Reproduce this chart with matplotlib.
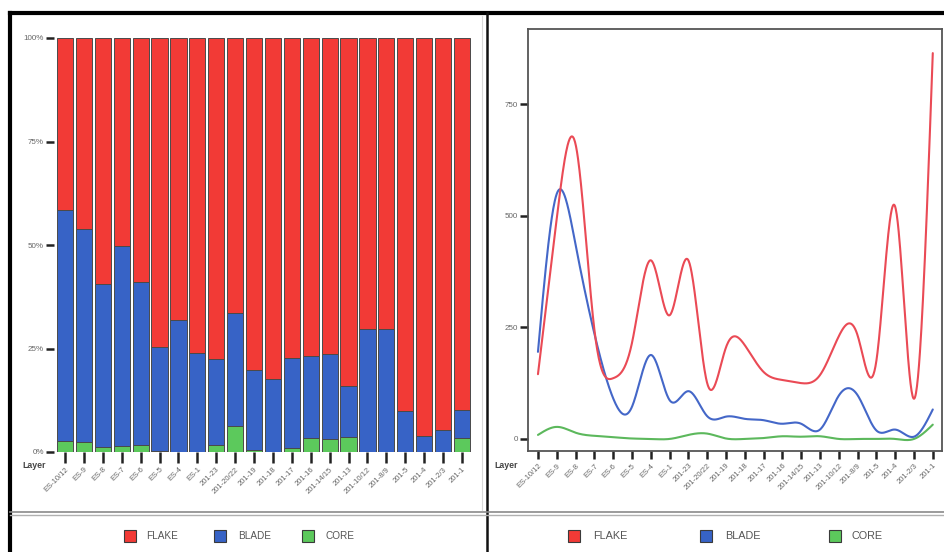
import numpy as np
import matplotlib
matplotlib.use("Agg")
import matplotlib.pyplot as plt
from matplotlib.patches import Rectangle
from matplotlib.lines import Line2D

plt.rcParams['font.family'] = ['Liberation Sans', 'DejaVu Sans']

# Layers, top of sequence first
layers = ["ES-10/12", "ES-9", "ES-8", "ES-7", "ES-6", "ES-5", "ES-4", "ES-1",
          "201-23", "201-20/22", "201-19", "201-18", "201-17", "201-16",
          "201-14/15", "201-13", "201-10/12", "201-8/9", "201-5", "201-4",
          "201-2/3", "201-1"]

# Artefact counts per layer
flake = [145, 494, 660, 245, 136, 215, 400, 277, 400, 125, 205,
         210, 150, 132, 125, 143, 230, 232, 175, 520, 90, 864]
blade = [195, 549, 435, 236, 91, 72, 188, 87, 107, 51, 50,
         45, 42, 34, 34, 21, 97, 98, 19, 21, 5, 66]
core = [9, 27, 14, 7, 4, 1, 0, 0, 9, 12, 1,
        0, 2, 6, 5, 6, 0, 0, 0, 0, 0, 32]

series_names = ["FLAKE", "BLADE", "CORE"]

BAR_COLORS = {"FLAKE": "#f23a36", "BLADE": "#3763c6", "CORE": "#5cc95c"}
LINE_COLORS = {"FLAKE": "#ea4a55", "BLADE": "#4467c8", "CORE": "#5cb85c"}

W, H = 945, 552
fig = plt.figure(figsize=(W / 100, H / 100), dpi=100)
fig.patch.set_facecolor("white")


def rect(x0, y0, x1, y1):
    return [x0 / W, 1 - y1 / H, (x1 - x0) / W, (y1 - y0) / H]


def fx(x):
    return x / W


def fy(y):
    return 1 - y / H


def natural_spline(x, y, xs):
    x = np.asarray(x, float)
    y = np.asarray(y, float)
    n = len(x)
    h = np.diff(x)
    A = np.zeros((n, n))
    b = np.zeros(n)
    A[0, 0] = A[-1, -1] = 1.0
    for i in range(1, n - 1):
        A[i, i - 1] = h[i - 1]
        A[i, i] = 2 * (h[i - 1] + h[i])
        A[i, i + 1] = h[i]
        b[i] = 6 * ((y[i + 1] - y[i]) / h[i] - (y[i] - y[i - 1]) / h[i - 1])
    M = np.linalg.solve(A, b)
    idx = np.clip(np.searchsorted(x, xs) - 1, 0, n - 2)
    x0, x1 = x[idx], x[idx + 1]
    hh = x1 - x0
    t0, t1 = x1 - xs, xs - x0
    return (M[idx] * t0 ** 3 / (6 * hh) + M[idx + 1] * t1 ** 3 / (6 * hh)
            + (y[idx] / hh - M[idx] * hh / 6) * t0
            + (y[idx + 1] / hh - M[idx + 1] * hh / 6) * t1)


n = len(layers)
pos = np.arange(n)
counts = {"FLAKE": np.array(flake, float), "BLADE": np.array(blade, float),
          "CORE": np.array(core, float)}
total = counts["FLAKE"] + counts["BLADE"] + counts["CORE"]
pct = {k: v / total * 100 for k, v in counts.items()}

label_color = "#666666"

# ---------- left: 100% stacked bars ----------
ax1 = fig.add_axes(rect(53.7, 38, 473.3, 452))
bottom = np.zeros(n)
for name in ["CORE", "BLADE", "FLAKE"]:
    ax1.bar(pos, pct[name], bottom=bottom, width=0.86, color=BAR_COLORS[name],
            edgecolor="#4a4a4a", linewidth=0.7)
    bottom += pct[name]
ax1.set_xlim(-0.6, n - 0.4)
ax1.set_ylim(0, 100)
for s in ax1.spines.values():
    s.set_visible(False)
ax1.set_yticks([0, 25, 50, 75, 100])
ax1.set_yticklabels(["0%", "25%", "50%", "75%", "100%"])
ax1.set_xticks(pos)
ax1.set_xticklabels(layers, rotation=45, ha="right", rotation_mode="anchor")
ax1.tick_params(axis="y", length=6, width=1.8, color="#222222", pad=1,
                labelsize=5.8, labelcolor=label_color)
ax1.tick_params(axis="x", length=8, width=1.8, color="#222222", pad=2,
                labelsize=5.5, labelcolor=label_color)
fig.text(fx(22), fy(466), "Layer", fontsize=6.3, fontweight="bold",
         color="#444444", va="center", ha="left")

# ---------- right: smoothed count lines ----------
ax2 = fig.add_axes(rect(528, 29, 942, 451))
xs = np.linspace(0, n - 1, 800)
for name in ["CORE", "BLADE", "FLAKE"]:
    ax2.plot(xs, natural_spline(pos, counts[name], xs), color=LINE_COLORS[name],
             linewidth=1.5, solid_capstyle="round")
ax2.set_xlim(-0.53, 21.49)
ax2.set_ylim(-27, 918)
for s in ax2.spines.values():
    s.set_color("#555555")
    s.set_linewidth(1.3)
ax2.set_yticks([0, 250, 500, 750])
ax2.set_yticklabels(["0", "250", "500", "750"])
ax2.set_xticks(pos)
ax2.set_xticklabels(layers, rotation=45, ha="right", rotation_mode="anchor")
ax2.tick_params(axis="y", length=6, width=1.8, color="#222222", pad=1,
                labelsize=5.8, labelcolor=label_color)
ax2.tick_params(axis="x", length=6, width=1.8, color="#222222", pad=2,
                labelsize=5.5, labelcolor=label_color)
fig.text(fx(494), fy(466), "Layer", fontsize=6.3, fontweight="bold",
         color="#444444", va="center", ha="left")

# ---------- frame and dividers ----------
frame = [
    ((10, 945), (13, 13), "#000000", 3.0),
    ((10, 10), (13, 552), "#000000", 3.0),
    ((487, 487), (13, 552), "#111111", 1.8),
    ((10, 945), (512, 512), "#8a8a8a", 1.2),
    ((10, 945), (515, 515), "#b0b0b0", 1.0),
    ((482, 482), (16, 510), "#d8d8d8", 0.8),
]
for (xa, xb), (ya, yb), c, lw in frame:
    fig.add_artist(Line2D([fx(xa), fx(xb)], [fy(ya), fy(yb)], color=c,
                          linewidth=lw, transform=fig.transFigure))

# ---------- legends ----------
legend_rows = [
    [(124, 146), (214, 238), (302, 326)],
    [(568, 593), (700, 725), (829, 852)],
]
for row, fs in zip(legend_rows, [7.2, 7.8]):
    for (sx, tx), name in zip(row, series_names):
        fig.add_artist(Rectangle((fx(sx), fy(542)), 12 / W, 12 / H,
                                 facecolor=BAR_COLORS[name], edgecolor="#3a3a3a",
                                 linewidth=0.8, transform=fig.transFigure))
        fig.text(fx(tx), fy(536), name, fontsize=fs, color="#555555",
                 va="center", ha="left")

fig.savefig("out.png", dpi=100, facecolor="white")
